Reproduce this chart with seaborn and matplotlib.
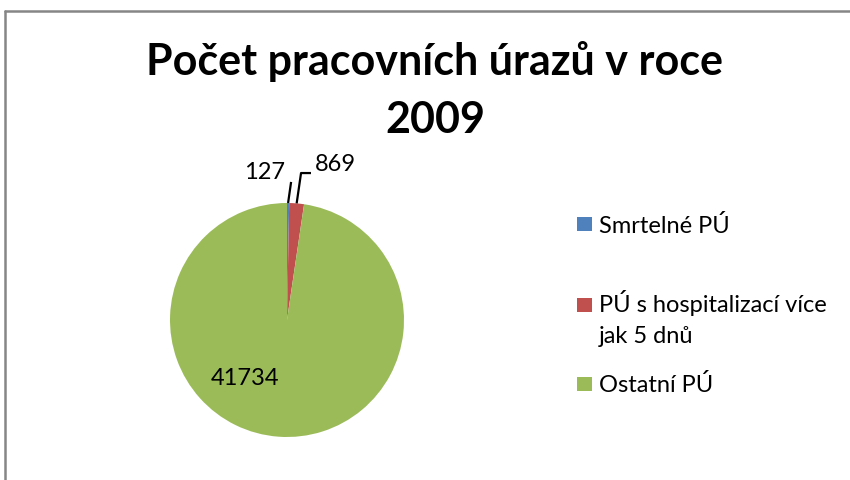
import numpy as np
import matplotlib
matplotlib.use("Agg")
import matplotlib.pyplot as plt
import seaborn as sns
from matplotlib.lines import Line2D
from matplotlib.patches import Rectangle

categories = ["Smrtelné PÚ", "PÚ s hospitalizací více\njak 5 dnů", "Ostatní PÚ"]
values = [127, 869, 41734]
colors = ["#4F81BD", "#C0504D", "#9BBB59"]
title = "Počet pracovních úrazů v roce\n2009"

sns.set_theme(style="white")
plt.rcParams['font.family'] = ['Lato', 'DejaVu Sans']

W, H = 850, 480
fig = plt.figure(figsize=(W / 100, H / 100), dpi=100)
fig.patch.set_facecolor("white")

# pie axes: center (287,320) px, radius 117 px, limits +-1.4
R = 117
L = 1.4
cx, cy = 287, 320
half = L * R
ax = fig.add_axes([(cx - half) / W, (H - cy - half) / H, 2 * half / W, 2 * half / H])
ax.set_xlim(-L, L)
ax.set_ylim(-L, L)
ax.set_aspect("equal")
ax.axis("off")

wedges, _ = ax.pie(values, colors=colors, startangle=90, counterclock=False,
                   radius=1.0, center=(0, 0), frame=False,
                   wedgeprops=dict(linewidth=0))
ax.set_xlim(-L, L)
ax.set_ylim(-L, L)

fs = 17
# label for smallest slice
th0 = np.deg2rad(wedges[0].theta1 + wedges[0].theta2) / 2
p0 = (np.cos(th0), np.sin(th0))
ax.plot([p0[0], 0.035], [p0[1], 1.18], color="black", lw=1.6, solid_capstyle="butt")
ax.text(-0.19, 1.26, f"{values[0]}", ha="center", va="center", fontsize=fs, color="black")

th1 = np.deg2rad(wedges[1].theta1 + wedges[1].theta2) / 2
p1 = (np.cos(th1), np.sin(th1))
ax.plot([p1[0], 0.12, 0.205], [p1[1], 1.256, 1.256], color="black", lw=1.6,
        solid_capstyle="butt")
ax.text(0.41, 1.33, f"{values[1]}", ha="center", va="center", fontsize=fs, color="black")

ax.text(-0.36, -0.50, f"{values[2]}", ha="center", va="center", fontsize=fs, color="black")

# title (two lines, baselines at 75 and 133 px)
title_lines = title.split("\n")
for line, yb in zip(title_lines, [75, 133]):
    fig.text(435 / W, 1 - yb / H, line, ha="center", va="baseline", fontsize=31,
             fontweight="bold", color="black")

# legend
leg_base = [233, 312, 392]
sq_top = [217, 298, 377]
for lab, col, yb, st in zip(categories, colors, leg_base, sq_top):
    fig.patches.append(Rectangle((577 / W, 1 - (st + 14) / H), 15 / W, 14 / H,
                                 transform=fig.transFigure, facecolor=col, edgecolor="none"))
    for i, ln in enumerate(lab.split("\n")):
        fig.text(599 / W, 1 - (yb + 31 * i) / H, ln, ha="left", va="baseline", fontsize=fs,
                 color="black")

# border
fig.add_artist(Line2D([5 / W, 1.0], [1 - 11 / H, 1 - 11 / H], transform=fig.transFigure,
                      color="#868686", lw=1.8))
fig.add_artist(Line2D([5 / W, 5 / W], [0, 1 - 11 / H], transform=fig.transFigure,
                      color="#868686", lw=1.8))

fig.savefig("out.png", dpi=100, facecolor="white")
